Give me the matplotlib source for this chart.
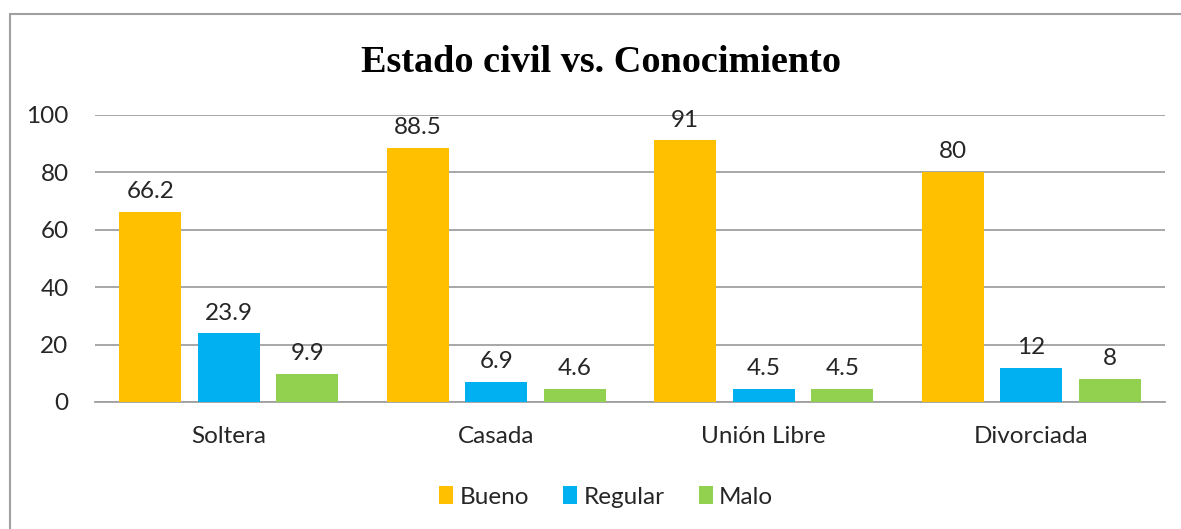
import matplotlib
matplotlib.use("Agg")
import matplotlib.pyplot as plt
import numpy as np
from matplotlib.patches import Rectangle

categories = ["Soltera", "Casada", "Unión Libre", "Divorciada"]
series_names = ["Bueno", "Regular", "Malo"]
bueno = [66.2, 88.5, 91, 80]
regular = [23.9, 6.9, 4.5, 12]
malo = [9.9, 4.6, 4.5, 8]
value_labels = [["66.2", "88.5", "91", "80"],
                ["23.9", "6.9", "4.5", "12"],
                ["9.9", "4.6", "4.5", "8"]]
colors = ["#FFC000", "#00B0F0", "#92D050"]
yticks = [0, 20, 40, 60, 80, 100]

W, H = 1181, 529
fig = plt.figure(figsize=(W / 100, H / 100), dpi=100)
fig.patch.set_facecolor("white")

# outer border
fig.add_artist(Rectangle((10 / W, -0.1), 1.2, 1 - 14 / H + 0.1, transform=fig.transFigure,
                         fill=False, edgecolor="#A0A0A0", linewidth=1.5))

ax = fig.add_axes([95 / W, 1 - 402 / H, (1165 - 95) / W, (402 - 114.5) / H])
font = "Lato"
fs = 17.5
tc = "#262626"
x = np.arange(len(categories))
pitch = 0.2935
width = 0.232
data = [bueno, regular, malo]
for i, (vals, c, name) in enumerate(zip(data, colors, series_names)):
    pos = x + (i - 1) * pitch
    bars = ax.bar(pos, vals, width, color=c, label=name, zorder=3)
    for b, lab in zip(bars, value_labels[i]):
        ax.annotate(lab, (b.get_x() + b.get_width() / 2, b.get_height()),
                    xytext=(0, 7), textcoords="offset points", ha="center", va="bottom",
                    fontsize=fs, family=font, color=tc)

ax.set_xlim(-0.5, len(categories) - 0.5)
ax.set_ylim(0, 100)
ax.set_yticks(yticks)
ax.set_yticklabels([str(t) for t in yticks], fontsize=fs, family=font, color=tc)
ax.set_xticks(x)
ax.set_xticklabels(categories, fontsize=fs, family=font, color=tc)
ax.tick_params(axis="both", length=0)
ax.tick_params(axis="y", pad=19)
ax.tick_params(axis="x", pad=17)
ax.grid(axis="y", color="#A0A0A0", linewidth=1.3, zorder=0)
for s in ["top", "right", "left"]:
    ax.spines[s].set_visible(False)
ax.spines["bottom"].set_color("#A0A0A0")
ax.spines["bottom"].set_linewidth(1.3)
ax.set_axisbelow(True)

fig.text(601 / W, 1 - 63 / H, "Estado civil vs. Conocimiento", ha="center", va="center",
         fontsize=27.5, fontweight="bold", family="Liberation Serif")

leg = fig.legend(loc="center", bbox_to_anchor=(606 / W, 1 - 497 / H), ncol=3, frameon=False,
                 prop={"family": font, "size": fs}, handlelength=0.6, handleheight=0.75,
                 handletextpad=0.25, columnspacing=1.4)
for t in leg.get_texts():
    t.set_color(tc)

fig.savefig("out.png", dpi=100)
